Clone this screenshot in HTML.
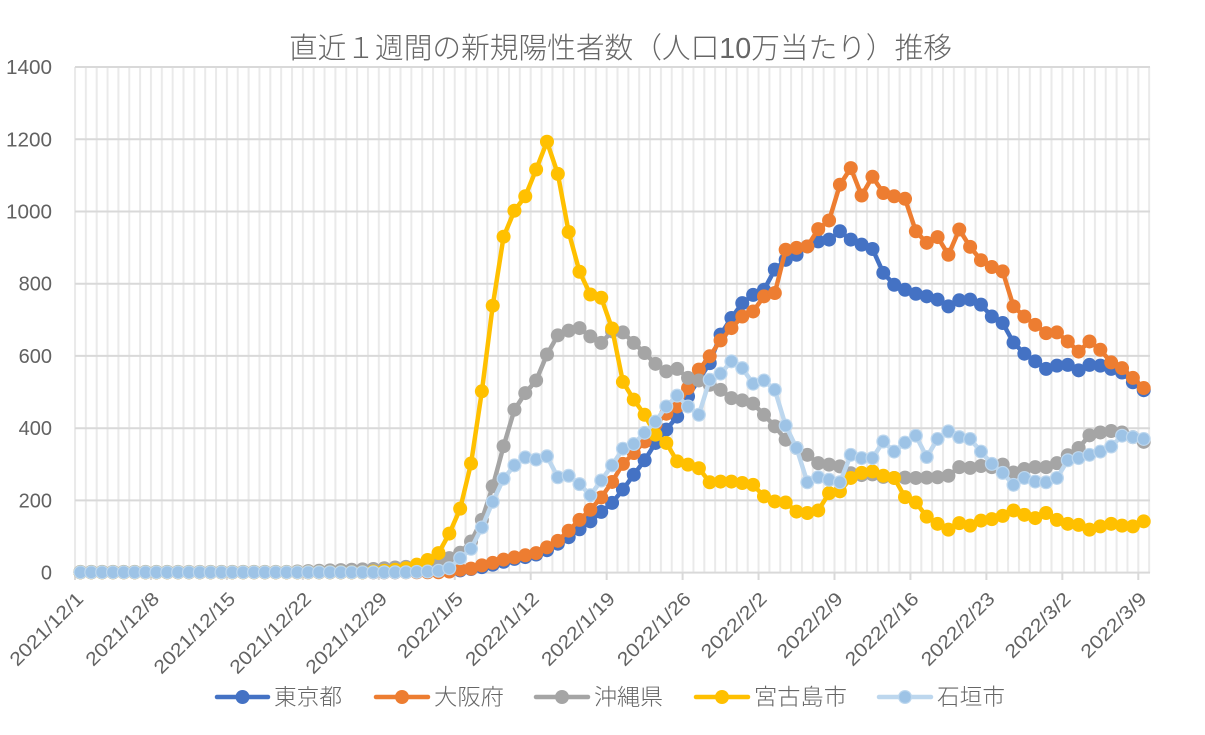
<!DOCTYPE html>
<html><head><meta charset="utf-8"><style>
html,body{margin:0;padding:0;background:#fff;}
svg{display:block;}
text{font-family:"Liberation Sans","Noto Sans CJK JP",sans-serif;fill:#626262;}
.lt{fill:#666;font-weight:300;}
</style></head><body>
<svg width="1205" height="735" viewBox="0 0 1205 735" xmlns="http://www.w3.org/2000/svg">
<defs>
<pattern id="vg" x="74" y="0" width="10.85" height="10" patternUnits="userSpaceOnUse">
<rect x="0" y="0" width="2" height="10" fill="#EAEAEA"/>
</pattern>
<marker id="mB" markerUnits="userSpaceOnUse" markerWidth="1" markerHeight="1" refX="0" refY="0" overflow="visible" style="overflow:visible">
<circle r="7" fill="#4472C4" transform="scale(0.092166 -2.76886)"/>
</marker>
<marker id="mO" markerUnits="userSpaceOnUse" markerWidth="1" markerHeight="1" refX="0" refY="0" overflow="visible" style="overflow:visible">
<circle r="7" fill="#ED7D31" transform="scale(0.092166 -2.76886)"/>
</marker>
<marker id="mG" markerUnits="userSpaceOnUse" markerWidth="1" markerHeight="1" refX="0" refY="0" overflow="visible" style="overflow:visible">
<circle r="7" fill="#A5A5A5" transform="scale(0.092166 -2.76886)"/>
</marker>
<marker id="mY" markerUnits="userSpaceOnUse" markerWidth="1" markerHeight="1" refX="0" refY="0" overflow="visible" style="overflow:visible">
<circle r="7" fill="#FFC000" transform="scale(0.092166 -2.76886)"/>
</marker>
<marker id="mL" markerUnits="userSpaceOnUse" markerWidth="1" markerHeight="1" refX="0" refY="0" overflow="visible" style="overflow:visible">
<g transform="scale(0.092166 -2.76886)"><circle r="7" fill="#BDD7EE"/><circle r="5.8" fill="#9DC3E6"/></g>
</marker>
</defs>

<!-- title -->
<text class="lt" x="289" y="58" font-size="29" textLength="663" lengthAdjust="spacingAndGlyphs">直近１週間の新規陽性者数（人口10万当たり）推移</text>

<!-- vertical gridlines -->
<rect x="74" y="67" width="1077" height="506" fill="url(#vg)"/>

<!-- horizontal gridlines -->
<g stroke="#D9D9D9" stroke-width="2">
<line x1="75" x2="1150" y1="67" y2="67"/>
<line x1="75" x2="1150" y1="139.3" y2="139.3"/>
<line x1="75" x2="1150" y1="211.5" y2="211.5"/>
<line x1="75" x2="1150" y1="283.7" y2="283.7"/>
<line x1="75" x2="1150" y1="355.9" y2="355.9"/>
<line x1="75" x2="1150" y1="428.2" y2="428.2"/>
<line x1="75" x2="1150" y1="500.4" y2="500.4"/>
<line x1="75" x2="1150" y1="572.6" y2="572.6"/>
</g>
<!-- ticks -->
<g stroke="#D9D9D9" stroke-width="2">
<line x1="75" x2="75" y1="572" y2="580"/>
<line x1="150.95" x2="150.95" y1="572" y2="580"/>
<line x1="226.9" x2="226.9" y1="572" y2="580"/>
<line x1="302.85" x2="302.85" y1="572" y2="580"/>
<line x1="378.8" x2="378.8" y1="572" y2="580"/>
<line x1="454.75" x2="454.75" y1="572" y2="580"/>
<line x1="530.7" x2="530.7" y1="572" y2="580"/>
<line x1="606.65" x2="606.65" y1="572" y2="580"/>
<line x1="682.6" x2="682.6" y1="572" y2="580"/>
<line x1="758.55" x2="758.55" y1="572" y2="580"/>
<line x1="834.5" x2="834.5" y1="572" y2="580"/>
<line x1="910.45" x2="910.45" y1="572" y2="580"/>
<line x1="986.4" x2="986.4" y1="572" y2="580"/>
<line x1="1062.35" x2="1062.35" y1="572" y2="580"/>
<line x1="1138.3" x2="1138.3" y1="572" y2="580"/>
</g>

<!-- y labels -->
<g font-size="20" text-anchor="end">
<text x="52" y="74" textLength="46" lengthAdjust="spacingAndGlyphs">1400</text>
<text x="52" y="146.3" textLength="46" lengthAdjust="spacingAndGlyphs">1200</text>
<text x="52" y="218.5" textLength="46" lengthAdjust="spacingAndGlyphs">1000</text>
<text x="52" y="290.7">800</text>
<text x="52" y="362.9">600</text>
<text x="52" y="435.2">400</text>
<text x="52" y="507.4">200</text>
<text x="52" y="579.6">0</text>
</g>

<!-- x labels -->
<g font-size="19" text-anchor="end">
<text transform="translate(84.5,600) rotate(-45)" textLength="95" lengthAdjust="spacingAndGlyphs">2021/12/1</text>
<text transform="translate(160.45,600) rotate(-45)" textLength="95" lengthAdjust="spacingAndGlyphs">2021/12/8</text>
<text transform="translate(236.4,600) rotate(-45)" textLength="106" lengthAdjust="spacingAndGlyphs">2021/12/15</text>
<text transform="translate(312.35,600) rotate(-45)" textLength="106" lengthAdjust="spacingAndGlyphs">2021/12/22</text>
<text transform="translate(388.3,600) rotate(-45)" textLength="106" lengthAdjust="spacingAndGlyphs">2021/12/29</text>
<text transform="translate(464.25,600) rotate(-45)" textLength="84" lengthAdjust="spacingAndGlyphs">2022/1/5</text>
<text transform="translate(540.2,600) rotate(-45)" textLength="95" lengthAdjust="spacingAndGlyphs">2022/1/12</text>
<text transform="translate(616.15,600) rotate(-45)" textLength="95" lengthAdjust="spacingAndGlyphs">2022/1/19</text>
<text transform="translate(692.1,600) rotate(-45)" textLength="95" lengthAdjust="spacingAndGlyphs">2022/1/26</text>
<text transform="translate(768.05,600) rotate(-45)" textLength="84" lengthAdjust="spacingAndGlyphs">2022/2/2</text>
<text transform="translate(844,600) rotate(-45)" textLength="84" lengthAdjust="spacingAndGlyphs">2022/2/9</text>
<text transform="translate(919.95,600) rotate(-45)" textLength="95" lengthAdjust="spacingAndGlyphs">2022/2/16</text>
<text transform="translate(995.9,600) rotate(-45)" textLength="95" lengthAdjust="spacingAndGlyphs">2022/2/23</text>
<text transform="translate(1071.85,600) rotate(-45)" textLength="84" lengthAdjust="spacingAndGlyphs">2022/3/2</text>
<text transform="translate(1147.8,600) rotate(-45)" textLength="84" lengthAdjust="spacingAndGlyphs">2022/3/9</text>
</g>

<!-- series -->
<g transform="matrix(10.85 0 0 -0.36116 80.425 572.6)" fill="none" stroke-width="4.5" stroke-linejoin="round" stroke-linecap="round">
<polyline vector-effect="non-scaling-stroke" stroke="#4472C4" marker-start="url(#mB)" marker-mid="url(#mB)" marker-end="url(#mB)" points="0,1 1,1 2,1 3,1 4,1 5,1 6,1 7,1 8,1 9,1 10,1 11,1 12,1 13,1 14,1 15,1 16,1 17,1 18,1 19,1 20,1 21,1 22,1 23,1 24,1 25,1 26,1 27,1 28,1 29,1 30,2 31,2 32,3 33,3 34,4 35,6 36,10 37,15 38,22 39,30 40,38 41,43 42,50 43,62 44,80 45,98 46,120 47,142 48,168 49,193 50,230 51,271 52,311 53,359 54,396 55,432 56,488 57,534 58,580 59,659 60,705 61,746 62,769 63,783 64,839 65,866 66,880 67,903 68,917 69,922 70,945 71,922 72,908 73,896 74,830 75,797 76,783 77,772 78,765 79,756 80,737 81,754 82,756 83,742 84,709 85,691 86,637 87,606 88,585 89,564 90,573 91,575 92,560 93,575 94,573 95,564 96,554 97,527 98,505"/>
<polyline vector-effect="non-scaling-stroke" stroke="#ED7D31" marker-start="url(#mO)" marker-mid="url(#mO)" marker-end="url(#mO)" points="0,1 1,1 2,1 3,1 4,1 5,1 6,1 7,1 8,1 9,1 10,1 11,1 12,1 13,1 14,1 15,1 16,1 17,1 18,1 19,1 20,1 21,1 22,1 23,1 24,1 25,1 26,1 27,1 28,1 29,1 30,1 31,1 32,1 33,1 34,3 35,8 36,11 37,20 38,27 39,36 40,42 41,48 42,54 43,70 44,88 45,116 46,146 47,174 48,208 49,251 50,301 51,331 52,363 53,410 54,440 55,460 56,511 57,562 58,599 59,643 60,677 61,709 62,723 63,765 64,774 65,894 66,899 67,903 68,951 69,975 70,1074 71,1120 72,1044 73,1096 74,1051 75,1042 76,1035 77,945 78,913 79,929 80,880 81,950 82,902 83,865 84,846 85,834 86,737 87,709 88,686 89,663 90,665 91,640 92,612 93,640 94,617 95,582 96,566 97,539 98,511"/>
<polyline vector-effect="non-scaling-stroke" stroke="#A5A5A5" marker-start="url(#mG)" marker-mid="url(#mG)" marker-end="url(#mG)" points="0,2 1,2 2,2 3,2 4,2 5,2 6,2 7,2 8,2 9,2 10,2 11,2 12,2 13,2 14,2 15,2 16,2 17,2 18,2 19,2 20,3 21,4 22,5 23,6 24,7 25,8 26,9 27,10 28,12 29,14 30,16 31,20 32,25 33,32 34,40 35,55 36,86 37,146 38,239 39,350 40,451 41,497 42,532 43,604 44,657 45,670 46,677 47,654 48,636 49,668 50,665 51,636 52,608 53,578 54,557 55,564 56,539 57,532 58,520 59,506 60,483 61,477 62,468 63,437 64,405 65,368 66,345 67,326 68,303 69,299 70,294 71,275 72,270 73,272 74,265 75,262 76,263 77,262 78,263 79,264 80,268 81,292 82,290 83,295 84,292 85,299 86,277 87,287 88,292 89,292 90,303 91,325 92,345 93,380 94,388 95,392 96,388 97,375 98,362"/>
<polyline vector-effect="non-scaling-stroke" stroke="#FFC000" marker-start="url(#mY)" marker-mid="url(#mY)" marker-end="url(#mY)" points="0,1 1,1 2,1 3,1 4,1 5,1 6,1 7,1 8,1 9,1 10,1 11,1 12,1 13,1 14,1 15,1 16,1 17,1 18,1 19,1 20,1 21,1 22,1 23,1 24,1 25,1 26,1 27,3 28,5 29,8 30,12 31,22 32,35 33,54 34,108 35,177 36,302 37,502 38,739 39,930 40,1002 41,1042 42,1116 43,1193 44,1104 45,943 46,833 47,770 48,761 49,676 50,528 51,479 52,437 53,382 54,359 55,308 56,299 57,289 58,250 59,252 60,252 61,248 62,243 63,211 64,197 65,194 66,169 67,165 68,172 69,220 70,225 71,262 72,276 73,280 74,268 75,262 76,209 77,194 78,155 79,135 80,119 81,137 82,130 83,144 84,148 85,157 86,172 87,160 88,151 89,165 90,146 91,135 92,132 93,119 94,128 95,135 96,130 97,128 98,142"/>
<polyline vector-effect="non-scaling-stroke" stroke="#BDD7EE" marker-start="url(#mL)" marker-mid="url(#mL)" marker-end="url(#mL)" points="0,1 1,1 2,1 3,1 4,1 5,1 6,1 7,1 8,1 9,1 10,1 11,1 12,1 13,1 14,1 15,1 16,1 17,1 18,1 19,1 20,1 21,1 22,1 23,1 24,1 25,1 26,1 27,1 28,1 29,1 30,1 31,2 32,3 33,5 34,12 35,40 36,66 37,125 38,196 39,260 40,297 41,319 42,313 43,322 44,264 45,268 46,245 47,214 48,255 49,297 50,343 51,356 52,387 53,418 54,460 55,490 56,460 57,437 58,534 59,551 60,585 61,566 62,523 63,532 64,506 65,407 66,345 67,250 68,264 69,257 70,250 71,326 72,317 73,317 74,363 75,335 76,360 77,379 78,320 79,370 80,391 81,375 82,370 83,335 84,301 85,276 86,243 87,262 88,252 89,250 90,262 91,311 92,317 93,326 94,335 95,349 96,379 97,375 98,370"/>
</g>

<!-- legend -->
<g stroke-width="4.5" stroke-linecap="round">
<line x1="217" x2="268" y1="697" y2="697" stroke="#4472C4"/>
<circle cx="242.5" cy="697" r="7" fill="#4472C4"/>
<line x1="376" x2="428" y1="697" y2="697" stroke="#ED7D31"/>
<circle cx="402" cy="697" r="7" fill="#ED7D31"/>
<line x1="536" x2="588" y1="697" y2="697" stroke="#A5A5A5"/>
<circle cx="562" cy="697" r="7" fill="#A5A5A5"/>
<line x1="696" x2="748" y1="697" y2="697" stroke="#FFC000"/>
<circle cx="722" cy="697" r="7" fill="#FFC000"/>
<line x1="879" x2="931" y1="697" y2="697" stroke="#BDD7EE"/>
<circle cx="905" cy="697" r="7" fill="#BDD7EE"/>
<circle cx="905" cy="697" r="5.8" fill="#9DC3E6"/>
</g>
<g font-size="22.5">
<text class="lt" x="274" y="705" textLength="68" lengthAdjust="spacingAndGlyphs">東京都</text>
<text class="lt" x="434" y="705" textLength="70" lengthAdjust="spacingAndGlyphs">大阪府</text>
<text class="lt" x="594" y="705" textLength="69" lengthAdjust="spacingAndGlyphs">沖縄県</text>
<text class="lt" x="754" y="705" textLength="93" lengthAdjust="spacingAndGlyphs">宮古島市</text>
<text class="lt" x="937" y="705" textLength="68" lengthAdjust="spacingAndGlyphs">石垣市</text>
</g>
</svg>
</body></html>
